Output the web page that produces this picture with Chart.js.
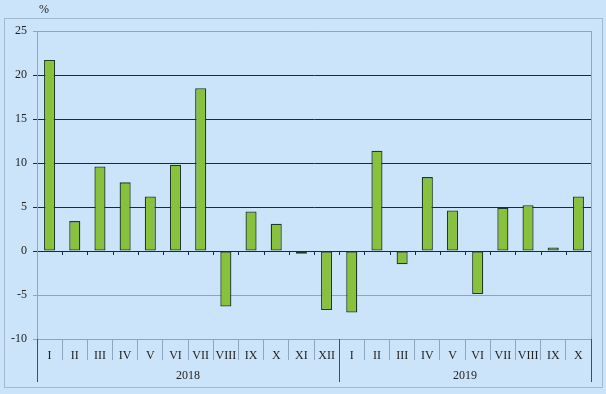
<!DOCTYPE html>
<html>
<head>
<meta charset="utf-8">
<script src="https://cdn.jsdelivr.net/npm/chart.js@4/dist/chart.umd.min.js"></script>
<style>
  body { margin: 0; background: #cce4fa; }
  canvas { display: block; }
</style>
</head>
<body>
<canvas id="chart" width="606" height="394"></canvas>
<script>
"use strict"

// months of 2018 (I-XII) and 2019 (I-X)
const months = ['I', 'II', 'III', 'IV', 'V', 'VI', 'VII', 'VIII', 'IX', 'X', 'XI', 'XII',
  'I', 'II', 'III', 'IV', 'V', 'VI', 'VII', 'VIII', 'IX', 'X'];
const values = [21.7, 3.4, 9.6, 7.8, 6.2, 9.8, 18.5, -6.3, 4.5, 3.1, -0.3, -6.7,
  -7.0, 11.4, -1.5, 8.4, 4.6, -4.9, 4.9, 5.2, 0.4, 6.2];
const years = ['2018', '2019'];
const yearStart = [0, 12];
const yMin = -10, yMax = 25, yStep = 5;

const bg = '#cce4fa';
const navy = '#13294a';
const grey = '#8ea5bf';
const font = "'Liberation Serif', 'Times New Roman', serif";

//////////    Extra drawing: frame, % sign, year row   //////////

const decor = {
  id: 'decor',
  beforeDraw(chart) {
    const ctx = chart.ctx;
    ctx.save();
    ctx.fillStyle = bg;
    ctx.fillRect(0, 0, chart.width, chart.height);
    ctx.strokeStyle = '#a3b9d2';
    ctx.lineWidth = 1;
    ctx.strokeRect(4.5, 18.5, 598, 369);
    ctx.fillStyle = '#222';
    ctx.font = '12px ' + font;
    ctx.textBaseline = 'middle';
    ctx.fillText('%', 39, 10);
    ctx.restore();
  },
  afterDraw(chart) {
    const ctx = chart.ctx, area = chart.chartArea;
    const x = chart.scales.x, y = chart.scales.y;
    const half = (x.getPixelForValue(1) - x.getPixelForValue(0)) / 2;
    ctx.save();
    ctx.lineWidth = 1;

    // right side of plot
    ctx.strokeStyle = grey;
    ctx.beginPath();
    ctx.moveTo(Math.round(area.right) + 0.5, area.top);
    ctx.lineTo(Math.round(area.right) + 0.5, area.bottom);
    ctx.stroke();

    // small ticks on zero line
    const y0 = Math.round(y.getPixelForValue(0));
    ctx.strokeStyle = navy;
    ctx.beginPath();
    for (let i = 1; i < months.length; i++) {
      const px = Math.round(x.getPixelForValue(i) - half) + 0.5;
      ctx.moveTo(px, y0);
      ctx.lineTo(px, y0 + 4);
    }
    ctx.stroke();

    // year separators
    ctx.strokeStyle = '#3c4f6a';
    ctx.beginPath();
    const edges = yearStart.map(s => x.getPixelForValue(s) - half);
    edges.push(x.getPixelForValue(months.length - 1) + half);
    edges.forEach(e => {
      const px = Math.round(e) + 0.5;
      ctx.moveTo(px, area.bottom);
      ctx.lineTo(px, area.bottom + 43);
    });
    ctx.stroke();

    // year labels, centred under their months
    ctx.fillStyle = '#222';
    ctx.font = '12px ' + font;
    ctx.textAlign = 'center';
    ctx.textBaseline = 'middle';
    years.forEach((yr, i) => {
      ctx.fillText(yr, (edges[i] + edges[i + 1]) / 2, area.bottom + 37);
    });
    ctx.restore();
  }
};

///////////   Chart   //////////////////////

new Chart('chart', {
  type: 'bar',
  data: {
    labels: months,
    datasets: [{
      data: values,
      backgroundColor: '#88c13c',
      borderColor: '#1f3a25',
      borderWidth: 1.3,
      borderSkipped: false,
      barPercentage: 0.44,
      categoryPercentage: 1
    }]
  },
  options: {
    responsive: false,
    animation: false,
    layout: { padding: { left: 4, top: 31, right: 15, bottom: 0 } },
    plugins: {
      legend: { display: false },
      tooltip: { enabled: false }
    },
    scales: {
      x: {
        offset: true,
        grid: {
          offset: true,
          drawOnChartArea: false,
          tickLength: 21,
          color: grey
        },
        border: { color: grey },
        ticks: {
          padding: -11,
          maxRotation: 0,
          autoSkip: false,
          color: '#222',
          font: { family: font, size: 12 }
        },
        afterFit(scale) { scale.height = 55; }
      },
      y: {
        min: yMin,
        max: yMax,
        grid: {
          tickLength: 4,
          color: ctx => (ctx.tick && ctx.tick.value >= 0 && ctx.tick.value < yMax) ? navy : grey
        },
        border: { color: grey },
        ticks: {
          stepSize: yStep,
          padding: 6,
          color: '#222',
          font: { family: font, size: 12 }
        },
        afterFit(scale) { scale.width = 33; }
      }
    }
  },
  plugins: [decor]
});
</script>
</body>
</html>
